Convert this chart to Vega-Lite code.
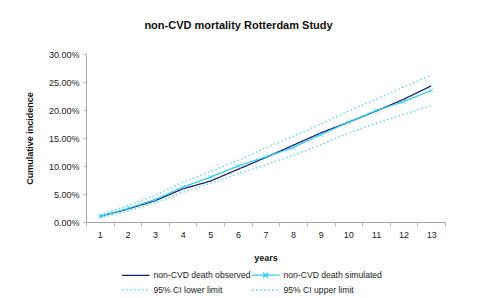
{
  "$schema": "https://vega.github.io/schema/vega-lite/v6.json",
  "autosize": "none",
  "width": 359,
  "height": 168,
  "padding": {"left": 86, "top": 54, "right": 32, "bottom": 76},
  "background": "white",
  "title": {
    "text": "non-CVD mortality Rotterdam Study",
    "font": "Liberation Sans",
    "fontSize": 11,
    "fontWeight": "bold",
    "color": "#111111",
    "anchor": "middle",
    "dx": -27,
    "offset": 19
  },
  "data": {
    "values": [
      {"year": 1, "series": "non-CVD death observed", "value": 0.010},
      {"year": 2, "series": "non-CVD death observed", "value": 0.023},
      {"year": 3, "series": "non-CVD death observed", "value": 0.038},
      {"year": 4, "series": "non-CVD death observed", "value": 0.059},
      {"year": 5, "series": "non-CVD death observed", "value": 0.073},
      {"year": 6, "series": "non-CVD death observed", "value": 0.094},
      {"year": 7, "series": "non-CVD death observed", "value": 0.115},
      {"year": 8, "series": "non-CVD death observed", "value": 0.137},
      {"year": 9, "series": "non-CVD death observed", "value": 0.159},
      {"year": 10, "series": "non-CVD death observed", "value": 0.178},
      {"year": 11, "series": "non-CVD death observed", "value": 0.198},
      {"year": 12, "series": "non-CVD death observed", "value": 0.219},
      {"year": 13, "series": "non-CVD death observed", "value": 0.243},
      {"year": 1, "series": "non-CVD death simulated", "value": 0.010},
      {"year": 2, "series": "non-CVD death simulated", "value": 0.024},
      {"year": 3, "series": "non-CVD death simulated", "value": 0.040},
      {"year": 4, "series": "non-CVD death simulated", "value": 0.062},
      {"year": 5, "series": "non-CVD death simulated", "value": 0.080},
      {"year": 6, "series": "non-CVD death simulated", "value": 0.100},
      {"year": 7, "series": "non-CVD death simulated", "value": 0.116},
      {"year": 8, "series": "non-CVD death simulated", "value": 0.133},
      {"year": 9, "series": "non-CVD death simulated", "value": 0.156},
      {"year": 10, "series": "non-CVD death simulated", "value": 0.178},
      {"year": 11, "series": "non-CVD death simulated", "value": 0.199},
      {"year": 12, "series": "non-CVD death simulated", "value": 0.215},
      {"year": 13, "series": "non-CVD death simulated", "value": 0.235},
      {"year": 1, "series": "95% CI lower limit", "value": 0.007},
      {"year": 2, "series": "95% CI lower limit", "value": 0.019},
      {"year": 3, "series": "95% CI lower limit", "value": 0.034},
      {"year": 4, "series": "95% CI lower limit", "value": 0.053},
      {"year": 5, "series": "95% CI lower limit", "value": 0.069},
      {"year": 6, "series": "95% CI lower limit", "value": 0.086},
      {"year": 7, "series": "95% CI lower limit", "value": 0.102},
      {"year": 8, "series": "95% CI lower limit", "value": 0.119},
      {"year": 9, "series": "95% CI lower limit", "value": 0.138},
      {"year": 10, "series": "95% CI lower limit", "value": 0.159},
      {"year": 11, "series": "95% CI lower limit", "value": 0.176},
      {"year": 12, "series": "95% CI lower limit", "value": 0.192},
      {"year": 13, "series": "95% CI lower limit", "value": 0.208},
      {"year": 1, "series": "95% CI upper limit", "value": 0.013},
      {"year": 2, "series": "95% CI upper limit", "value": 0.029},
      {"year": 3, "series": "95% CI upper limit", "value": 0.048},
      {"year": 4, "series": "95% CI upper limit", "value": 0.071},
      {"year": 5, "series": "95% CI upper limit", "value": 0.090},
      {"year": 6, "series": "95% CI upper limit", "value": 0.110},
      {"year": 7, "series": "95% CI upper limit", "value": 0.132},
      {"year": 8, "series": "95% CI upper limit", "value": 0.153},
      {"year": 9, "series": "95% CI upper limit", "value": 0.175},
      {"year": 10, "series": "95% CI upper limit", "value": 0.198},
      {"year": 11, "series": "95% CI upper limit", "value": 0.219},
      {"year": 12, "series": "95% CI upper limit", "value": 0.241},
      {"year": 13, "series": "95% CI upper limit", "value": 0.262}
    ]
  },
  "encoding": {
    "x": {
      "field": "year",
      "type": "ordinal",
      "bandPosition": 0.5,
      "scale": {"type": "band", "paddingInner": 0, "paddingOuter": 0},
      "axis": {
        "title": "years",
        "labelAngle": 0,
        "tickBand": "extent",
        "tickSize": 4,
        "labelPadding": 4,
        "titlePadding": 14
      }
    },
    "y": {
      "field": "value",
      "type": "quantitative",
      "scale": {"domain": [0, 0.3], "nice": false},
      "axis": {
        "title": "Cumulative incidence",
        "format": ".2%",
        "values": [0, 0.05, 0.1, 0.15, 0.2, 0.25, 0.3],
        "tickSize": 3,
        "labelPadding": 4,
        "titlePadding": 14
      }
    }
  },
  "layer": [
    {
      "mark": {"type": "line", "strokeWidth": 1.3},
      "encoding": {
        "color": {
          "field": "series",
          "type": "nominal",
          "scale": {
            "domain": ["non-CVD death observed", "non-CVD death simulated", "95% CI lower limit", "95% CI upper limit"],
            "range": ["#1f1f78", "#2fd0f5", "#4fd6f5", "#4fd6f5"]
          },
          "legend": {
            "title": null,
            "encode": {
              "symbols": {
                "update": {
                  "shape": {"signal": "datum.value === 'non-CVD death simulated' ? 'M-1,0L4,0M1,-0.45L2,0.45M1,0.45L2,-0.45' : 'M-1,0L4,0'"}
                }
              }
            }
          }
        },
        "strokeDash": {
          "field": "series",
          "type": "nominal",
          "scale": {
            "domain": ["non-CVD death observed", "non-CVD death simulated", "95% CI lower limit", "95% CI upper limit"],
            "range": [[1, 0], [1, 0], [1.5, 2.5], [1.5, 2.5]]
          },
          "legend": {"title": null}
        }
      }
    },
    {
      "transform": [{"filter": "datum.series === 'non-CVD death simulated'"}],
      "mark": {
        "type": "point",
        "shape": "M-1,-1L1,1M-1,1L1,-1",
        "filled": false,
        "size": 22,
        "strokeWidth": 1,
        "color": "#2fd0f5"
      }
    }
  ],
  "config": {
    "font": "Liberation Sans",
    "view": {"stroke": null},
    "axis": {
      "grid": false,
      "domainColor": "#a8a8a8",
      "tickColor": "#b8b8b8",
      "labelFont": "Liberation Sans",
      "labelFontSize": 9,
      "labelColor": "#222222",
      "titleFont": "Liberation Sans",
      "titleFontSize": 9,
      "titleFontWeight": "bold",
      "titleColor": "#111111"
    },
    "legend": {
      "orient": "none",
      "legendX": 35,
      "legendY": 214.5,
      "direction": "horizontal",
      "columns": 2,
      "columnPadding": -3,
      "rowPadding": 3,
      "padding": 0,
      "symbolType": "M-1,0L4,0",
      "symbolSize": 121,
      "symbolStrokeWidth": 1.3,
      "labelOffset": 19.5,
      "labelFont": "Liberation Sans",
      "labelFontSize": 8.6,
      "labelColor": "#222222"
    }
  }
}
